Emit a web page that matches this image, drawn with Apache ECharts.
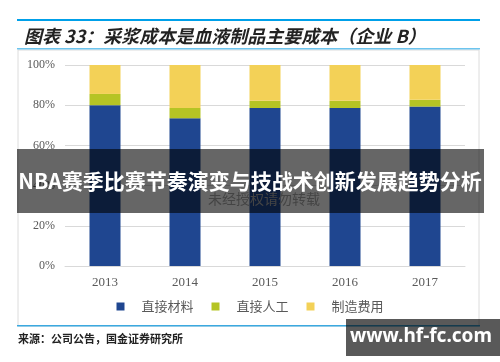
<!DOCTYPE html>
<html><head><meta charset="utf-8">
<script src="https://cdn.jsdelivr.net/npm/echarts@6/dist/echarts.min.js"></script>
<style>html,body{margin:0;padding:0;background:#fff}#c{width:500px;height:362px}</style>
</head><body><div id="c"></div>
<script>
var categories = ['2013', '2014', '2015', '2016', '2017'];
var seriesNames = ['直接材料', '直接人工', '制造费用'];
var directMaterial = [80.0, 73.5, 78.6, 78.6, 79.3];
var directLabor = [5.6, 5.1, 3.6, 3.6, 3.4];
var manufacturing = [14.4, 21.4, 17.8, 17.8, 17.3];
var yTicks = [0, 20, 40, 60, 80, 100];
var colors = ['#1f4690', '#b5c424', '#f3d157'];

var chart = echarts.init(document.getElementById('c'));
var dataSets = [directMaterial, directLabor, manufacturing];
var series = seriesNames.map(function (n, i) {
  return {
    name: n, type: 'bar', stack: 'total', barWidth: 31,
    itemStyle: { color: colors[i] },
    data: dataSets[i]
  };
});
chart.setOption({
  animation: false,
  title: {
    text: '图表 33：采浆成本是血液制品主要成本（企业 B）',
    left: 19, top: 22,
    textStyle: { fontSize: 18, fontStyle: 'italic', fontWeight: 'bold', color: '#222', fontFamily: 'Noto Sans CJK SC' }
  },
  legend: {
    data: seriesNames, bottom: 44, left: 'center',
    icon: 'rect', itemWidth: 8, itemHeight: 8, itemGap: 18,
    textStyle: { color: '#595959', fontSize: 13, padding: [0, 0, 0, 12], fontFamily: 'Noto Sans CJK SC' }
  },
  grid: { left: 65, right: 35, top: 65, bottom: 96 },
  xAxis: {
    type: 'category', data: categories,
    axisLine: { lineStyle: { color: '#d9d9d9' } },
    axisTick: { show: false },
    axisLabel: { color: '#595959', fontSize: 13, fontFamily: 'Liberation Serif', margin: 10 }
  },
  yAxis: {
    type: 'value', min: yTicks[0], max: yTicks[yTicks.length - 1], interval: 20,
    axisLabel: { formatter: '{value}%', color: '#595959', fontSize: 12, fontFamily: 'Liberation Serif', margin: 10 },
    splitLine: { lineStyle: { color: '#d9d9d9' } },
    axisLine: { show: false }, axisTick: { show: false }
  },
  series: series,
  graphic: [
    { type: 'rect', shape: { x: 17, y: 19, width: 463, height: 2 }, style: { fill: '#00a0e9' } },
    { type: 'rect', shape: { x: 17, y: 48, width: 463, height: 1.5 }, style: { fill: '#6cc4ee' } },
    { type: 'rect', shape: { x: 18, y: 50, width: 461, height: 276 }, style: { fill: 'none', stroke: '#dcdcdc', lineWidth: 1 }, z: -1 },
    { type: 'rect', shape: { x: 17, y: 325, width: 463, height: 1.5 }, style: { fill: '#3ba9e0' } },
    { type: 'text', left: 18, top: 333, style: { text: '来源：公司公告，国金证券研究所', fill: '#222', font: 'bold 11px "Noto Sans CJK SC"' } },
    { type: 'text', left: 208, top: 192, z: 50, style: { text: '未经授权请勿转载', fill: '#aaaaaa', font: '14px "Noto Sans CJK SC"' } },
    { type: 'rect', z: 100, shape: { x: 17, y: 149, width: 467, height: 64 }, style: { fill: 'rgba(0,0,0,0.6)' } },
    { type: 'text', z: 101, x: 250, y: 181, style: { text: 'NBA赛季比赛节奏演变与技战术创新发展趋势分析', fill: '#fff', font: 'bold 21px "Noto Sans CJK SC"', textAlign: 'center', textVerticalAlign: 'middle' } },
    { type: 'rect', z: 100, shape: { x: 346, y: 319, width: 154, height: 37 }, style: { fill: 'rgba(0,0,0,0.65)' } },
    { type: 'text', z: 101, x: 421, y: 337, style: { text: 'www.hf-fc.com', fill: '#fff', font: 'bold 19px "Noto Sans", sans-serif', textAlign: 'center', textVerticalAlign: 'middle' } }
  ]
});
</script></body></html>
